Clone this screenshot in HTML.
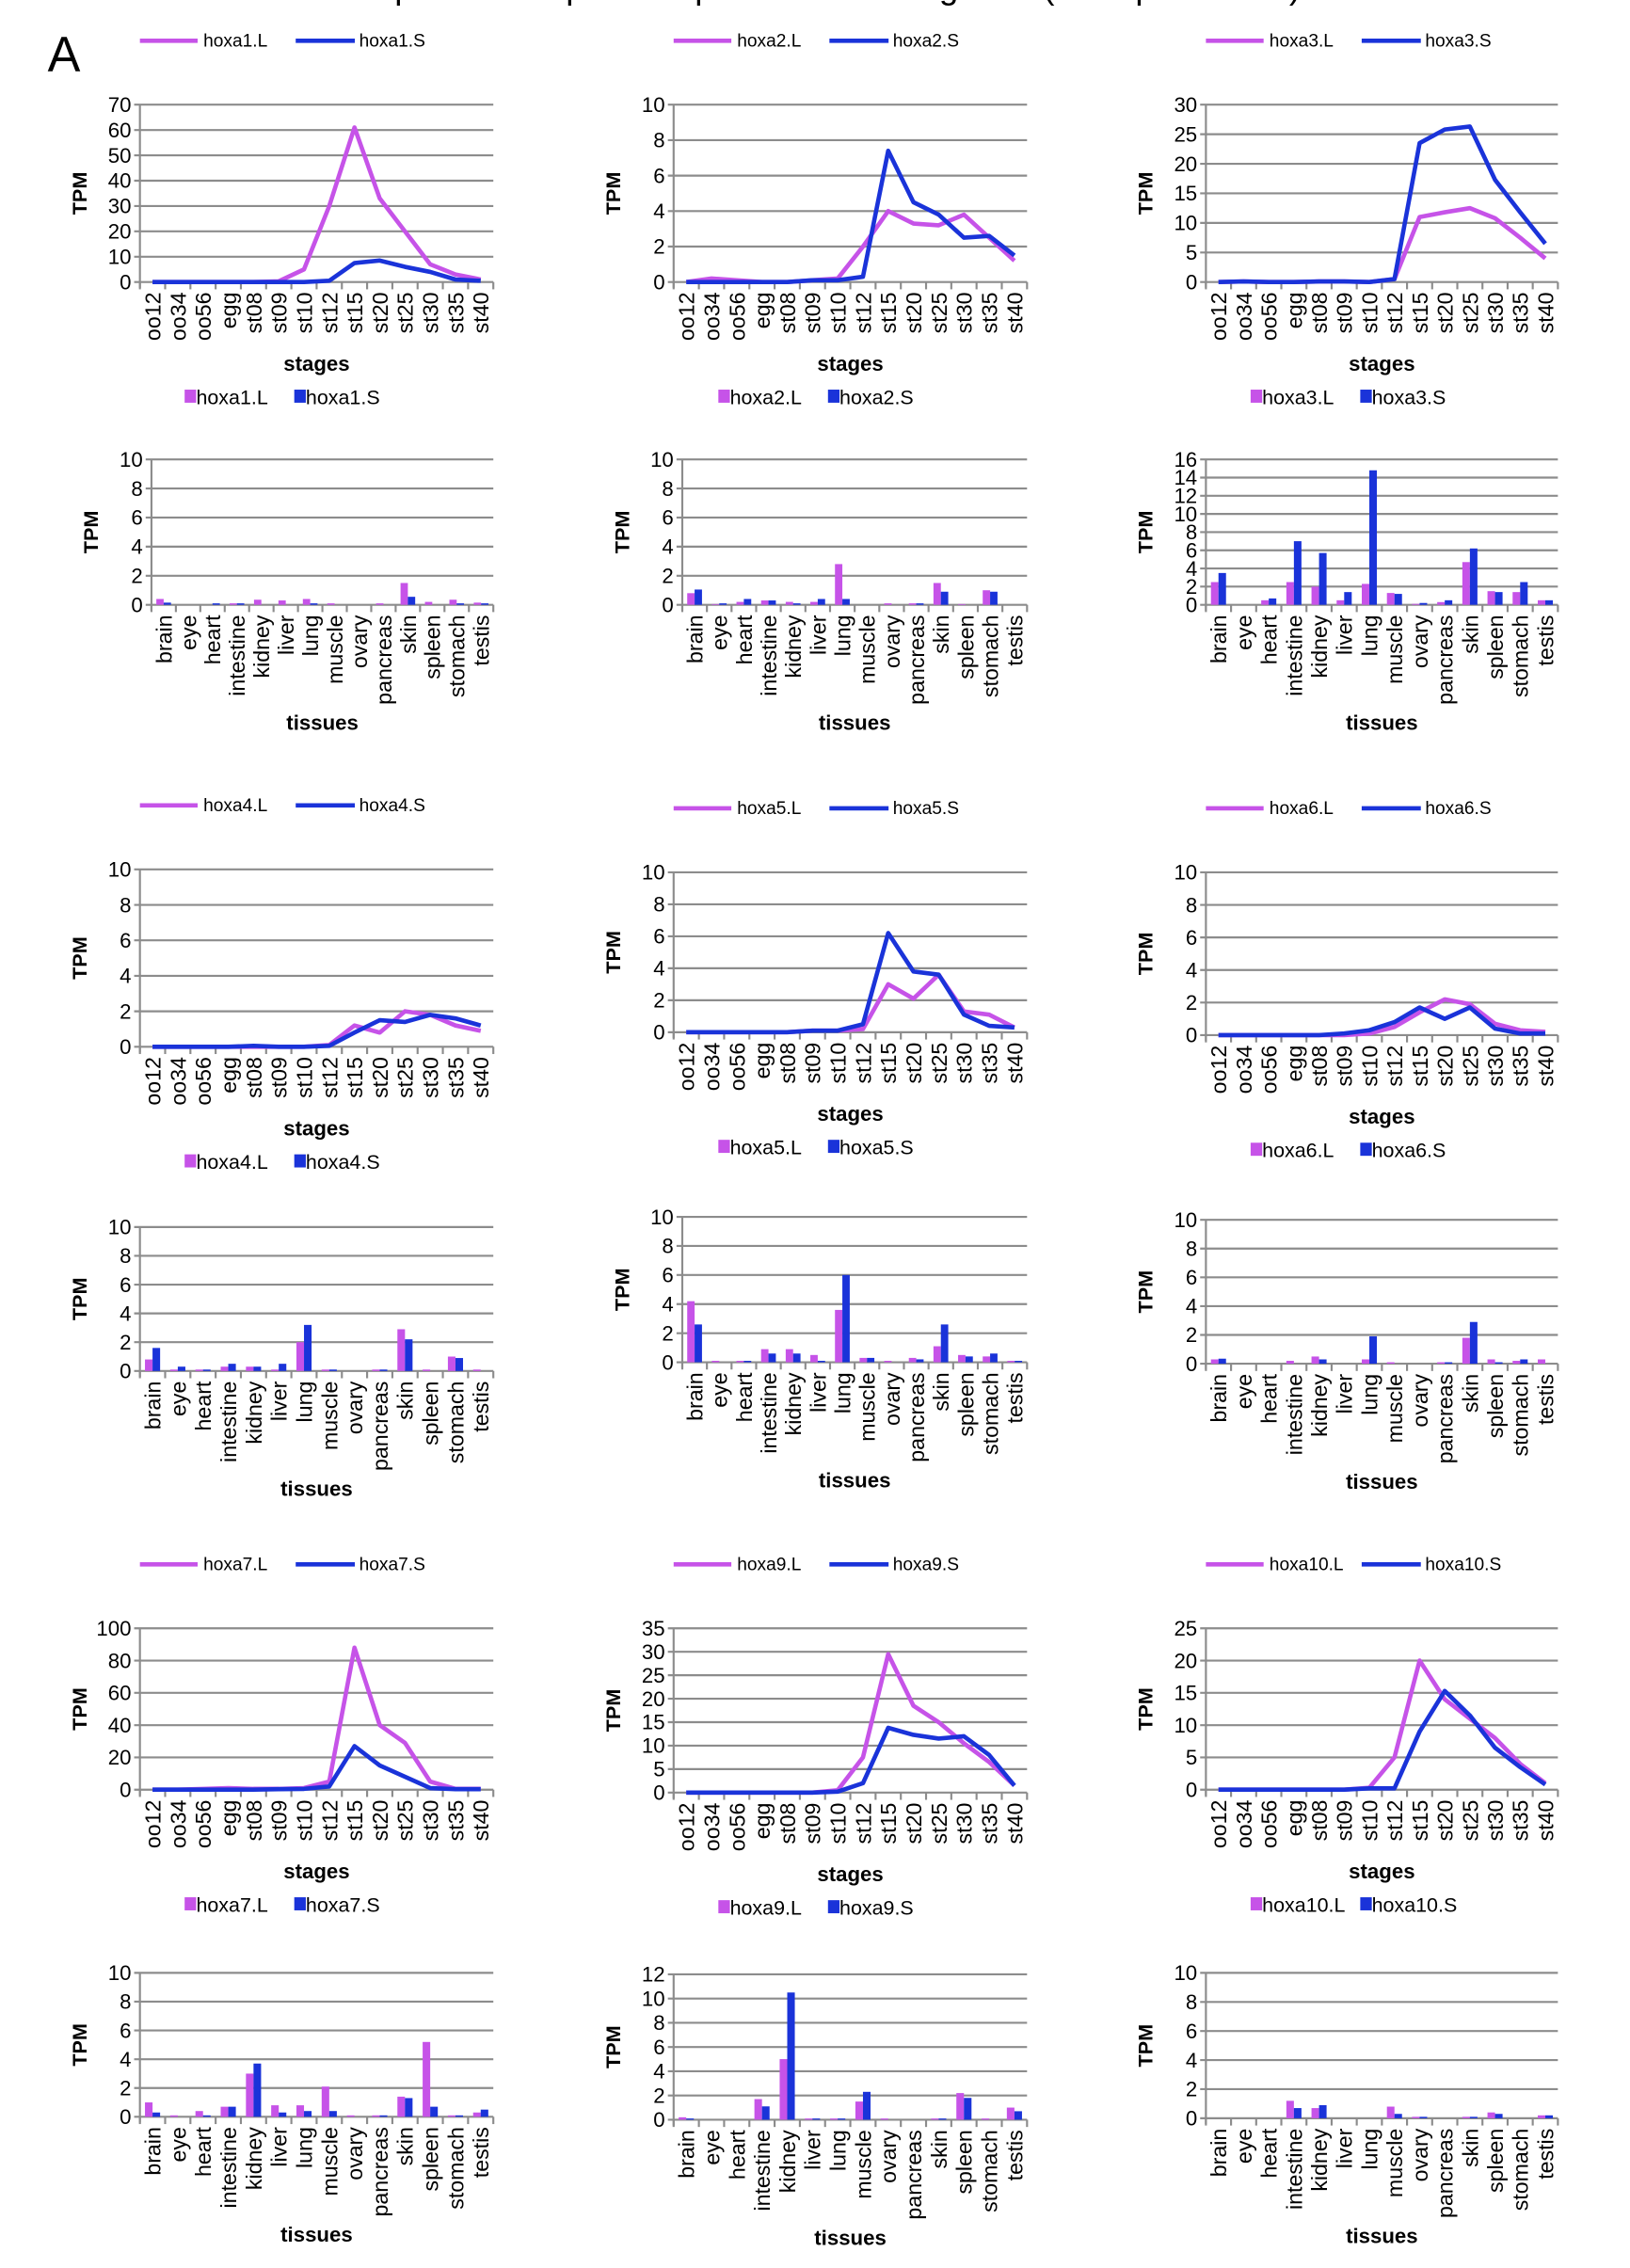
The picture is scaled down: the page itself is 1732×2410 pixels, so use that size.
<!DOCTYPE html>
<html><head><meta charset="utf-8">
<style>
html,body{margin:0;padding:0;background:#fff;}
svg{display:block;font-family:"Liberation Sans",Arial,sans-serif;}
</style></head>
<body>
<svg id="fig" width="1732" height="2410" viewBox="0 0 1130 1560" preserveAspectRatio="none" xmlns="http://www.w3.org/2000/svg">
<rect width="1130" height="1560" fill="#fff"/>
<text x="565" y="-1" font-size="24" text-anchor="middle">Temporal and spatial expression of hox genes (Xenopus laevis)</text>
<text x="33" y="49" font-size="34">A</text>
</svg>
<script>
const stages = ["oo12","oo34","oo56","egg","st08","st09","st10","st12","st15","st20","st25","st30","st35","st40"];
const tissues = ["brain","eye","heart","intestine","kidney","liver","lung","muscle","ovary","pancreas","skin","spleen","stomach","testis"];
const genes = ["hoxa1","hoxa2","hoxa3","hoxa4","hoxa5","hoxa6","hoxa7","hoxa9","hoxa10"];

const stageL_hoxa1 = [0,0,0,0,0,0.3,5,30,61,33,20,7,3,1];
const stageS_hoxa1 = [0,0,0,0,0,0,0,0.5,7.5,8.5,6,4,1,0.5];
const stageL_hoxa2 = [0,0.2,0.1,0,0,0.1,0.2,2,4,3.3,3.2,3.8,2.5,1.2];
const stageS_hoxa2 = [0,0,0,0,0,0.1,0.1,0.3,7.4,4.5,3.8,2.5,2.6,1.5];
const stageL_hoxa3 = [0,0.1,0,0,0.1,0.1,0,0.5,11,11.8,12.5,10.8,7.5,4];
const stageS_hoxa3 = [0,0.1,0,0,0.1,0.1,0,0.5,23.5,25.8,26.3,17.3,11.8,6.5];
const stageL_hoxa4 = [0,0,0,0,0,0,0,0.1,1.2,0.8,2,1.8,1.2,0.9];
const stageS_hoxa4 = [0,0,0,0,0.05,0,0,0.05,0.8,1.5,1.4,1.8,1.6,1.2];
const stageL_hoxa5 = [0,0,0,0,0,0.1,0.1,0.2,3,2.1,3.6,1.3,1.1,0.3];
const stageS_hoxa5 = [0,0,0,0,0,0.1,0.1,0.5,6.2,3.8,3.6,1.1,0.4,0.3];
const stageL_hoxa6 = [0,0,0,0,0,0,0.1,0.5,1.4,2.2,1.9,0.7,0.3,0.2];
const stageS_hoxa6 = [0,0,0,0,0,0.1,0.3,0.8,1.7,1.0,1.7,0.4,0.1,0.1];
const stageL_hoxa7 = [0,0,0.5,1,0.5,0.5,1,5,88,40,29,5,0.5,0.5];
const stageS_hoxa7 = [0,0,0,0,0,0.3,0.5,2,27,15,8,1,0.3,0.3];
const stageL_hoxa9 = [0,0,0,0,0,0,0.5,7.5,29.5,18.5,15,10.5,6.5,1.5];
const stageS_hoxa9 = [0,0,0,0,0,0,0.2,2,13.8,12.3,11.5,12,8,1.5];
const stageL_hoxa10 = [0,0,0,0,0,0,0.3,5,20,14,11,8,4,1];
const stageS_hoxa10 = [0,0,0,0,0,0,0.2,0.2,9,15.3,11.5,6.5,3.5,0.8];

const tissueL_hoxa1 = [0.4,0,0,0.1,0.35,0.3,0.4,0.1,0,0.1,1.5,0.2,0.35,0.15];
const tissueS_hoxa1 = [0.15,0,0.1,0.1,0,0,0.1,0,0,0,0.55,0,0.1,0.1];
const tissueL_hoxa2 = [0.8,0.05,0.2,0.3,0.2,0.2,2.8,0,0.1,0.1,1.5,0.05,1,0];
const tissueS_hoxa2 = [1.05,0.1,0.4,0.3,0.1,0.4,0.4,0,0,0.1,0.9,0,0.9,0];
const tissueL_hoxa3 = [2.5,0,0.5,2.5,2,0.5,2.3,1.3,0.1,0.3,4.7,1.5,1.4,0.5];
const tissueS_hoxa3 = [3.5,0,0.7,7,5.7,1.4,14.8,1.2,0.2,0.5,6.2,1.4,2.5,0.5];
const tissueL_hoxa4 = [0.8,0.1,0.1,0.3,0.3,0.1,2,0.1,0,0.1,2.9,0.1,1,0.1];
const tissueS_hoxa4 = [1.6,0.3,0.1,0.5,0.3,0.5,3.2,0.1,0,0.1,2.2,0,0.9,0];
const tissueL_hoxa5 = [4.2,0.1,0.1,0.9,0.9,0.5,3.6,0.3,0.1,0.3,1.1,0.5,0.4,0.1];
const tissueS_hoxa5 = [2.6,0,0.1,0.6,0.6,0.1,6,0.3,0,0.2,2.6,0.4,0.6,0.1];
const tissueL_hoxa6 = [0.3,0,0,0.2,0.5,0,0.3,0.1,0,0.1,1.8,0.3,0.2,0.3];
const tissueS_hoxa6 = [0.35,0,0,0,0.3,0,1.9,0,0,0.1,2.9,0.1,0.3,0];
const tissueL_hoxa7 = [1,0.1,0.4,0.7,3,0.8,0.8,2.1,0.1,0.1,1.4,5.2,0.1,0.3];
const tissueS_hoxa7 = [0.3,0,0.1,0.7,3.7,0.3,0.4,0.4,0,0.1,1.3,0.7,0.1,0.5];
const tissueL_hoxa9 = [0.2,0,0,1.7,5,0.1,0.1,1.5,0.1,0,0.1,2.2,0.1,1];
const tissueS_hoxa9 = [0.1,0,0,1.1,10.5,0.1,0.1,2.3,0,0,0.1,1.8,0,0.7];
const tissueL_hoxa10 = [0,0,0,1.2,0.7,0,0,0.8,0.1,0,0.1,0.4,0,0.2];
const tissueS_hoxa10 = [0,0,0,0.7,0.9,0,0,0.3,0.1,0,0.1,0.3,0,0.2];

const lineTicks_hoxa1 = [0,10,20,30,40,50,60,70];
const lineTicks_hoxa2 = [0,2,4,6,8,10];
const lineTicks_hoxa3 = [0,5,10,15,20,25,30];
const lineTicks_hoxa4 = [0,2,4,6,8,10];
const lineTicks_hoxa5 = [0,2,4,6,8,10];
const lineTicks_hoxa6 = [0,2,4,6,8,10];
const lineTicks_hoxa7 = [0,20,40,60,80,100];
const lineTicks_hoxa9 = [0,5,10,15,20,25,30,35];
const lineTicks_hoxa10 = [0,5,10,15,20,25];
const barTicks_std = [0,2,4,6,8,10];
const barTicks_hoxa3 = [0,2,4,6,8,10,12,14,16];
const barTicks_hoxa9 = [0,2,4,6,8,10,12];

const DATA = {
 hoxa1:[stageL_hoxa1,stageS_hoxa1,tissueL_hoxa1,tissueS_hoxa1,lineTicks_hoxa1,barTicks_std],
 hoxa2:[stageL_hoxa2,stageS_hoxa2,tissueL_hoxa2,tissueS_hoxa2,lineTicks_hoxa2,barTicks_std],
 hoxa3:[stageL_hoxa3,stageS_hoxa3,tissueL_hoxa3,tissueS_hoxa3,lineTicks_hoxa3,barTicks_hoxa3],
 hoxa4:[stageL_hoxa4,stageS_hoxa4,tissueL_hoxa4,tissueS_hoxa4,lineTicks_hoxa4,barTicks_std],
 hoxa5:[stageL_hoxa5,stageS_hoxa5,tissueL_hoxa5,tissueS_hoxa5,lineTicks_hoxa5,barTicks_std],
 hoxa6:[stageL_hoxa6,stageS_hoxa6,tissueL_hoxa6,tissueS_hoxa6,lineTicks_hoxa6,barTicks_std],
 hoxa7:[stageL_hoxa7,stageS_hoxa7,tissueL_hoxa7,tissueS_hoxa7,lineTicks_hoxa7,barTicks_std],
 hoxa9:[stageL_hoxa9,stageS_hoxa9,tissueL_hoxa9,tissueS_hoxa9,lineTicks_hoxa9,barTicks_hoxa9],
 hoxa10:[stageL_hoxa10,stageS_hoxa10,tissueL_hoxa10,tissueS_hoxa10,lineTicks_hoxa10,barTicks_std]
};

const LAYOUT = {
 hoxa1:{l:[97,342,72,194], b:[105,342,316,416]},
 hoxa2:{l:[467,712,72,194], b:[473,712,316,416]},
 hoxa3:{l:[836,1080,72,194], b:[836,1080,316,416]},
 hoxa4:{l:[97,342,598,720], b:[97,342,844,943]},
 hoxa5:{l:[467,712,600,710], b:[473,712,837,937]},
 hoxa6:{l:[836,1080,600,712], b:[836,1080,839,938]},
 hoxa7:{l:[97,342,1120,1231], b:[97,342,1357,1456]},
 hoxa9:{l:[467,712,1120,1233], b:[467,712,1358,1458]},
 hoxa10:{l:[836,1080,1120,1231], b:[836,1080,1357,1457]}
};
const PINK="#c653e8", BLUE="#1a33d9", GRID="#8c8c8c";
const NS="http://www.w3.org/2000/svg";
const svg=document.getElementById('fig');
function mk(tag,attrs,parent,text){const e=document.createElementNS(NS,tag);for(const k in attrs)e.setAttribute(k,attrs[k]);if(text!==undefined)e.textContent=text;(parent||svg).appendChild(e);return e;}

function axes(g,x0,x1,top,zero,ticks,cats){
  const max=ticks[ticks.length-1];
  const ys=v=>zero-(v/max)*(zero-top);
  ticks.forEach(t=>{
    const ln=mk('line',{x1:x0-4,x2:x1,y1:ys(t),y2:ys(t),stroke:GRID,'stroke-width':1.4},g);
    
    
    const tx=mk('text',{x:x0-6,y:ys(t)+5,'font-size':14.5,'text-anchor':'end'},g,String(t));
    
    
  });
  mk('line',{x1:x0,x2:x0,y1:top,y2:zero+4,stroke:GRID,'stroke-width':1.4},g);
  const bw=(x1-x0)/cats.length;
  for(let i=0;i<=cats.length;i++) mk('line',{x1:x0+i*bw,x2:x0+i*bw,y1:zero,y2:zero+5,stroke:GRID,'stroke-width':1.4},g);
  cats.forEach((c,i)=>{
    const cx=x0+(i+0.5)*bw+5.5, cy=zero+7;
    const t=mk('text',{x:cx,y:cy,'font-size':15,'text-anchor':'end',transform:`rotate(-90 ${cx} ${cy})`},g,c);
    
    
  });
  const yl=mk('text',{x:x0-37,y:(top+zero)/2,'font-size':14,'font-weight':'bold','text-anchor':'middle',transform:`rotate(-90 ${x0-37} ${(top+zero)/2})`},g,'TPM');
  
  
  return {ys,bw};
}

genes.forEach(gn=>{
  const [sL,sS,tL,tS,lt,bt]=DATA[gn];
  const [lx0,lx1,lt0,lz]=LAYOUT[gn].l;
  const g=mk('g',{});
  
  
  const {ys,bw}=axes(g,lx0,lx1,lt0,lz,lt,stages);
  [[sL,PINK,'L'],[sS,BLUE,'S']].forEach(([arr,col,suf])=>{
    const pts=arr.map((v,i)=>`${lx0+(i+0.5)*bw},${ys(v)}`).join(' ');
    const p=mk('polyline',{points:pts,fill:'none',stroke:col,'stroke-width':3,'stroke-linejoin':'round'},g);
    
    
  });
  const ly=lt0-44;
  mk('line',{x1:lx0,x2:lx0+40,y1:ly,y2:ly,stroke:PINK,'stroke-width':3},g);
  const le1=mk('text',{x:lx0+44,y:ly+4,'font-size':12.5},g,gn+'.L');
  
  
  mk('line',{x1:lx0+108,x2:lx0+149,y1:ly,y2:ly,stroke:BLUE,'stroke-width':3},g);
  const le2=mk('text',{x:lx0+152,y:ly+4,'font-size':12.5},g,gn+'.S');
  
  
  const st=mk('text',{x:(lx0+lx1)/2,y:lz+61,'font-size':14.5,'font-weight':'bold','text-anchor':'middle'},g,'stages');
  
  
  const by=lz+84, bl=lx0+31;
  mk('rect',{x:bl,y:by-10,width:8,height:9,fill:PINK},g);
  const bl1=mk('text',{x:bl+8,y:by,'font-size':14},g,gn+'.L');
  
  
  mk('rect',{x:bl+76,y:by-10,width:8,height:9,fill:BLUE},g);
  const bl2=mk('text',{x:bl+84,y:by,'font-size':14},g,gn+'.S');
  
  

  const [bx0,bx1,bt0,bz]=LAYOUT[gn].b;
  const gb=mk('g',{});
  
  
  const A=axes(gb,bx0,bx1,bt0,bz,bt,tissues);
  const w=A.bw*0.3;
  tissues.forEach((c,i)=>{
    const cx=bx0+(i+0.5)*A.bw;
    const r1=mk('rect',{x:cx-w,y:A.ys(tL[i]),width:w,height:bz-A.ys(tL[i]),fill:PINK},gb);
    
    
    const r2=mk('rect',{x:cx,y:A.ys(tS[i]),width:w,height:bz-A.ys(tS[i]),fill:BLUE},gb);
    
    
  });
  const tt=mk('text',{x:(bx0+bx1)/2,y:bz+86,'font-size':14.5,'font-weight':'bold','text-anchor':'middle'},gb,'tissues');
  
  
});
</script>
</body></html>
